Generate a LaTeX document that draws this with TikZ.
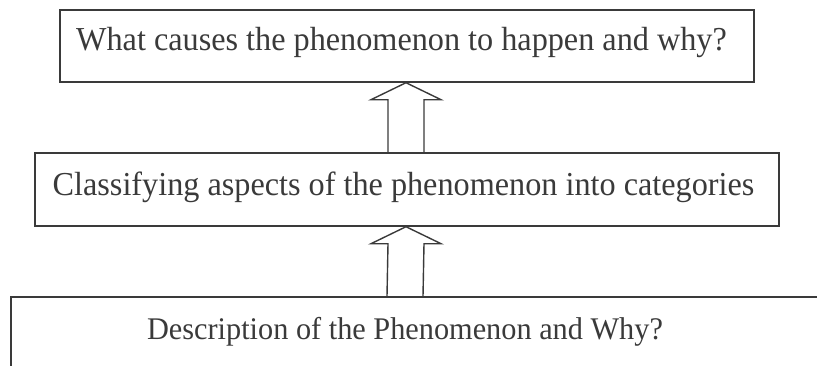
\documentclass[tikz,border=0pt]{standalone}
\usepackage{fontspec}
\setmainfont{Liberation Serif}
\usetikzlibrary{calc}
\definecolor{ink}{HTML}{3A3A3A}
\tikzset{
  boxshape/.style={draw=ink, line width=1.4pt, rectangle, inner sep=0pt},
  lbl/.style={inner sep=0pt, anchor=base, text=ink, xscale=0.962, font=\fontsize{33.5}{38}\selectfont},
  smalllbl/.style={lbl, font=\fontsize{31.5}{36}\selectfont},
  blockarrow/.style={draw=ink, line width=1.4pt, line join=miter}
}
\begin{document}
\begin{tikzpicture}[x=1pt,y=-1pt]
\useasboundingbox (0,0) rectangle (817,365);
\clip (0,0) rectangle (817,365);
% boxes
\node[boxshape, minimum width=694pt, minimum height=72pt] (top) at (407,46) {};
\node[boxshape, minimum width=744pt, minimum height=73pt] (mid) at (407,189.5) {};
\node[boxshape, minimum width=829pt, minimum height=103pt] (bot) at (425.5,348.5) {};
% labels
\node[lbl] (toptext) at (401.5,50) {What causes the phenomenon to happen and why?};
\node[lbl] (midtext) at (403.5,195) {Classifying aspects of the phenomenon into categories};
\node[smalllbl] (bottext) at (405,339) {Description of the Phenomenon and Why?};
% arrow anchors
\coordinate (tip1) at ($(top.south)+(-1,0)$);
\coordinate (base1) at ($(mid.north)+(-1,0)$);
\coordinate (tip2) at ($(mid.south)+(-1,0)$);
\coordinate (base2) at ($(bot.north)+(-20.5,0)$);
% block arrows
\draw[blockarrow] ($(base1)+(-18,0)$) -- ($(tip1)+(-18,17)$) -- ($(tip1)+(-35,17)$) -- (tip1)
  -- ($(tip1)+(35,17)$) -- ($(tip1)+(18,17)$) -- ($(base1)+(18,0)$);
\draw[blockarrow] ($(base2)+(-18,0)$) -- ($(tip2)+(-18,17)$) -- ($(tip2)+(-35,17)$) -- (tip2)
  -- ($(tip2)+(35,17)$) -- ($(tip2)+(18,17)$) -- ($(base2)+(18,0)$);
\end{tikzpicture}
\end{document}
